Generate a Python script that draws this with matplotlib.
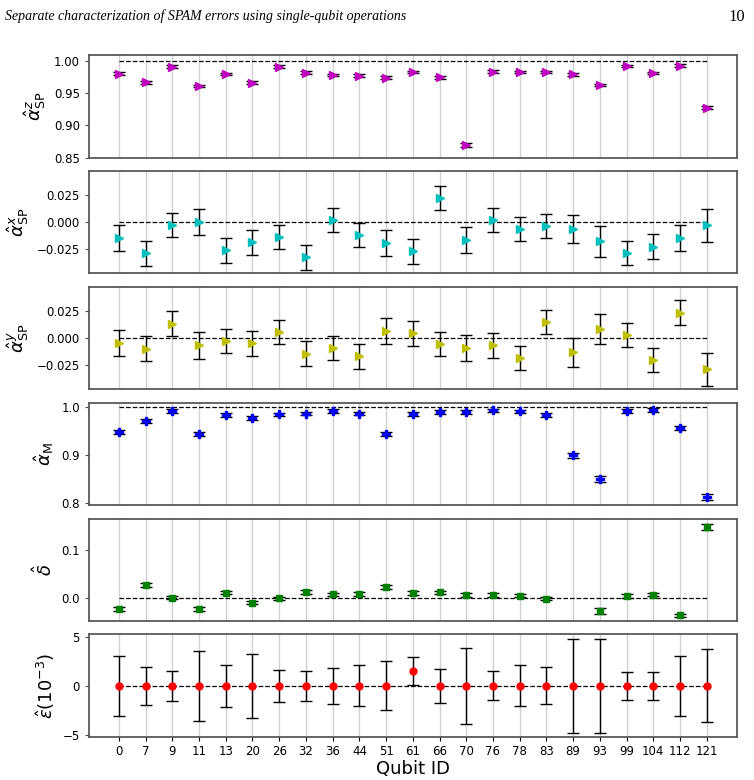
import numpy as np
import matplotlib
matplotlib.use("Agg")
import matplotlib.pyplot as plt

qubits = ["0", "7", "9", "11", "13", "20", "26", "32", "36", "44", "51", "61",
          "66", "70", "76", "78", "83", "89", "93", "99", "104", "112", "121"]

alpha_sp_z = [0.9808, 0.9673, 0.9917, 0.9616, 0.9803, 0.9668, 0.9917, 0.9824,
              0.9782, 0.9777, 0.9746, 0.9834, 0.9750, 0.8692, 0.9839, 0.9834,
              0.9834, 0.9798, 0.9631, 0.9922, 0.9818, 0.9933, 0.9279]
alpha_sp_z_err = [0.0020, 0.0020, 0.0018, 0.0022, 0.0020, 0.0021, 0.0018, 0.0019,
                  0.0019, 0.0019, 0.0020, 0.0019, 0.0019, 0.0030, 0.0018, 0.0019,
                  0.0019, 0.0020, 0.0022, 0.0018, 0.0019, 0.0017, 0.0025]

alpha_sp_x = [-0.0148, -0.0287, -0.0028, 0.0003, -0.0259, -0.0185, -0.0139, -0.0324,
              0.0022, -0.0117, -0.0194, -0.0269, 0.0225, -0.0160, 0.0022, -0.0062,
              -0.0034, -0.0065, -0.0176, -0.0287, -0.0225, -0.0145, -0.0028]
alpha_sp_x_err = [0.0120, 0.0116, 0.0111, 0.0122, 0.0116, 0.0117, 0.0111, 0.0113,
                  0.0111, 0.0111, 0.0119, 0.0113, 0.0113, 0.0119, 0.0111, 0.0114,
                  0.0113, 0.0130, 0.0140, 0.0110, 0.0113, 0.0119, 0.0151]

alpha_sp_y = [-0.0043, -0.0099, 0.0134, -0.0068, -0.0028, -0.0047, 0.0056, -0.0146,
              -0.0096, -0.0171, 0.0062, 0.0043, -0.0056, -0.0093, -0.0068, -0.0186,
              0.0149, -0.0134, 0.0087, 0.0031, -0.0208, 0.0236, -0.0292]
alpha_sp_y_err = [0.0121, 0.0116, 0.0113, 0.0123, 0.0115, 0.0116, 0.0115, 0.0115,
                  0.0113, 0.0115, 0.0121, 0.0115, 0.0115, 0.0121, 0.0115, 0.0113,
                  0.0113, 0.0132, 0.0141, 0.0113, 0.0113, 0.0118, 0.0154]

alpha_m = [0.9484, 0.9717, 0.9922, 0.9435, 0.9837, 0.9767, 0.9852, 0.9866,
           0.9922, 0.9866, 0.9442, 0.9859, 0.9901, 0.9901, 0.9936, 0.9915,
           0.9837, 0.8989, 0.8488, 0.9922, 0.9943, 0.9569, 0.8113]
alpha_m_err = [0.0045, 0.0040, 0.0035, 0.0045, 0.0038, 0.0042, 0.0036, 0.0036,
               0.0035, 0.0036, 0.0044, 0.0036, 0.0035, 0.0035, 0.0034, 0.0035,
               0.0038, 0.0055, 0.0060, 0.0035, 0.0034, 0.0045, 0.0060]

delta = [-0.0238, 0.0266, 0.0000, -0.0231, 0.0105, -0.0105, -0.0014, 0.0119,
         0.0070, 0.0077, 0.0224, 0.0098, 0.0112, 0.0056, 0.0056, 0.0042,
         -0.0021, np.nan, -0.0280, 0.0035, 0.0063, -0.0371, 0.1480]
delta_err = [0.0040, 0.0038, 0.0035, 0.0042, 0.0036, 0.0038, 0.0035, 0.0035,
             0.0035, 0.0035, 0.0038, 0.0035, 0.0035, 0.0035, 0.0035, 0.0035,
             0.0035, np.nan, 0.0070, 0.0035, 0.0035, 0.0040, 0.0065]

epsilon = [0.0, 0.0, 0.0, 0.0, 0.0, 0.0, 0.0, 0.0, 0.0, 0.0, 0.0, 1.50,
           0.0, 0.0, 0.0, 0.0, 0.0, 0.0, 0.0, 0.0, 0.0, 0.0, 0.0]
epsilon_err = [3.10, 1.97, 1.56, 3.60, 2.14, 3.30, 1.67, 1.56, 1.87, 2.10, 2.52, 1.46,
               1.72, 3.90, 1.48, 2.10, 1.89, 4.81, 4.85, 1.46, 1.45, 3.10, 3.76]

panels = [
    (alpha_sp_z, alpha_sp_z_err, 1.0, r"$\hat{\alpha}^z_{\rm SP}$", "m", ">", 5.5,
     (0.85, 1.0098), [0.85, 0.90, 0.95, 1.00], ["0.85", "0.90", "0.95", "1.00"]),
    (alpha_sp_x, alpha_sp_x_err, 0.0, r"$\hat{\alpha}^x_{\rm SP}$", "c", ">", 5.5,
     (-0.0472, 0.0475), [-0.025, 0.0, 0.025], ["\u22120.025", "0.000", "0.025"]),
    (alpha_sp_y, alpha_sp_y_err, 0.0, r"$\hat{\alpha}^y_{\rm SP}$", "y", ">", 5.5,
     (-0.0478, 0.0477), [-0.025, 0.0, 0.025], ["\u22120.025", "0.000", "0.025"]),
    (alpha_m, alpha_m_err, 1.0, r"$\hat{\alpha}_{\rm M}$", "b", "P", 6,
     (0.7943, 1.0099), [0.8, 0.9, 1.0], ["0.8", "0.9", "1.0"]),
    (delta, delta_err, 0.0, r"$\hat{\delta}$", "g", "s", 5,
     (-0.049, 0.165), [0.0, 0.1], ["0.0", "0.1"]),
    (epsilon, epsilon_err, 0.0, r"$\hat{\epsilon}(10^{-3})$", "r", "o", 5,
     (-5.25, 5.27), [-5, 0, 5], ["\u22125", "0", "5"]),
]

fig, axes = plt.subplots(6, 1, figsize=(7.54, 7.8), dpi=100, sharex=True)
fig.subplots_adjust(left=0.118, right=0.977, top=0.9295, bottom=0.0551, hspace=0.13)

x = np.arange(len(qubits))
for ax, (vals, errs, ref, lab, col, mk, ms, ylim, yt, ytl) in zip(axes, panels):
    for xi in x:
        ax.axvline(xi, color="0.82", lw=1.0, zorder=0)
    ax.plot([x[0], x[-1]], [ref, ref], ls="--", color="black", lw=0.9, zorder=1)
    ax.errorbar(x, vals, yerr=errs, fmt=mk, color=col, ms=ms, ecolor="black",
                elinewidth=1.0, capsize=4, capthick=1.0, zorder=3)
    ax.set_ylim(*ylim)
    ax.set_yticks(yt)
    ax.set_yticklabels(ytl, fontsize=8.5)
    ax.set_ylabel(lab, fontsize=13)
    for s in ax.spines.values():
        s.set_color("0.35")
        s.set_linewidth(1.3)
    ax.tick_params(axis="x", length=0)
    ax.tick_params(axis="y", length=3, color="0.3")
    ax.set_xlim(-1.12, 23.12)

axes[-1].set_xticks(x)
axes[-1].set_xticklabels(qubits, fontsize=8.5)
axes[-1].tick_params(axis="x", length=3, pad=3)
axes[-1].set_xlabel("Qubit ID", fontsize=13, labelpad=1)

fig.text(0.007, 0.988, "Separate characterization of SPAM errors using single-qubit operations",
         family="Liberation Serif", style="italic", fontsize=10.0, va="top", ha="left")
fig.text(0.988, 0.988, "10", family="Liberation Serif", fontsize=12, va="top", ha="right")

fig.savefig("out.png", dpi=100)
